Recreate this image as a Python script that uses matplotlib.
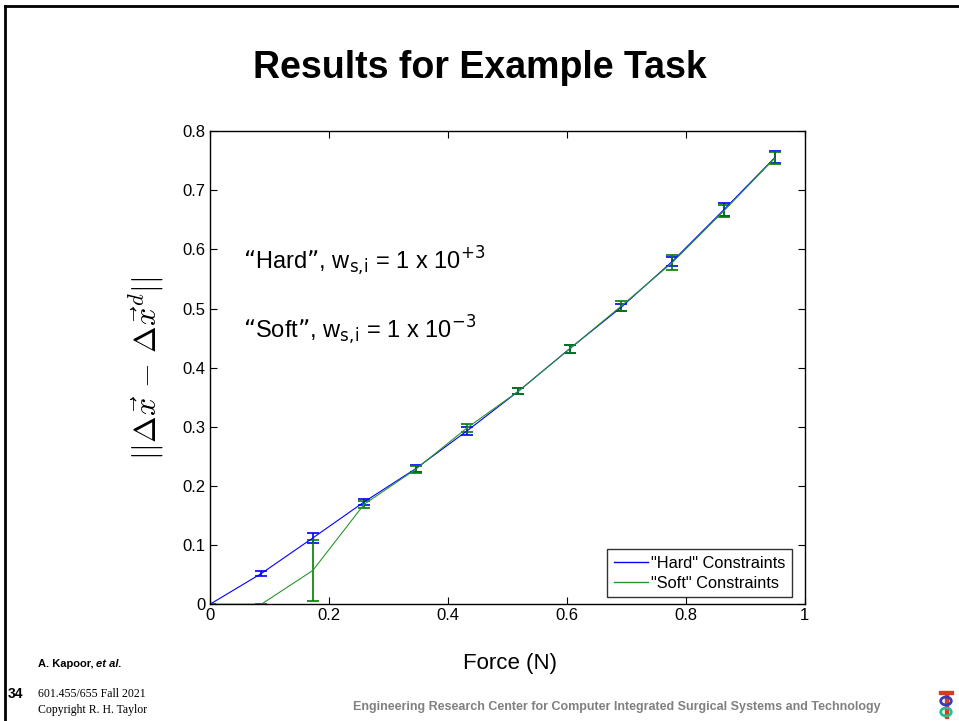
import matplotlib
matplotlib.use("Agg")
import matplotlib.pyplot as plt
from matplotlib.lines import Line2D
from matplotlib.patches import Rectangle, Circle

plt.rcParams['font.family'] = ['Liberation Sans', 'DejaVu Sans']
plt.rcParams['mathtext.fontset'] = 'cm'

force = [0.0, 0.0864, 0.1728, 0.2592, 0.3456, 0.432, 0.5184, 0.6048, 0.6912, 0.7776, 0.864, 0.9504]
hard_y = [0.0, 0.052, 0.112, 0.173, 0.229, 0.293, 0.360, 0.432, 0.502, 0.580, 0.667, 0.756]
hard_err = [0.0, 0.004, 0.008, 0.005, 0.006, 0.007, 0.005, 0.007, 0.006, 0.008, 0.011, 0.010]
soft_y = [0.0, 0.0, 0.057, 0.169, 0.228, 0.298, 0.360, 0.432, 0.504, 0.578, 0.665, 0.755]
soft_err = [0.0, 0.001, 0.052, 0.006, 0.006, 0.007, 0.005, 0.007, 0.008, 0.013, 0.010, 0.010]
xticks = [0, 0.2, 0.4, 0.6, 0.8, 1]
xticklabels = ['0', '0.2', '0.4', '0.6', '0.8', '1']
yticks = [0, 0.1, 0.2, 0.3, 0.4, 0.5, 0.6, 0.7, 0.8]
yticklabels = ['0', '0.1', '0.2', '0.3', '0.4', '0.5', '0.6', '0.7', '0.8']
legend_labels = ['"Hard" Constraints', '"Soft" Constraints']

fig = plt.figure(figsize=(9.59, 7.21), dpi=100)
fig.patch.set_facecolor('white')

ax = fig.add_axes([0.219, 0.162, 0.620, 0.656])

blue = '#0000ff'
green = '#2a962a'
green_dark = '#007f00'

ax.errorbar(force, hard_y, yerr=hard_err, color=blue, lw=0.8, ecolor=blue,
            elinewidth=1.2, capsize=4.5, capthick=1.2)
ax.errorbar(force, soft_y, yerr=soft_err, color=green, lw=0.8, ecolor=green_dark,
            elinewidth=1.2, capsize=4.5, capthick=1.2)

ax.set_xlim(0, 1)
ax.set_ylim(0, 0.8)
ax.set_xticks(xticks)
ax.set_xticklabels(xticklabels)
ax.set_yticks(yticks)
ax.set_yticklabels(yticklabels)
ax.tick_params(direction='in', length=5, width=0.8, top=True, right=True,
               labelsize=12, pad=3)
for s in ax.spines.values():
    s.set_linewidth(1.0)

ax.set_ylabel(r'$||\Delta\vec{x}\,-\,\Delta\vec{x}^d||$', fontsize=23, labelpad=12)
fig.text(0.532, 1 - 663/721, 'Force (N)', fontsize=16, ha='center', va='center')

handles = [Line2D([], [], color=blue, lw=1), Line2D([], [], color=green, lw=1)]
leg = ax.legend(handles, legend_labels, loc='lower right', fontsize=11.8,
                frameon=True, fancybox=False, edgecolor='black',
                handlelength=2.1, handletextpad=0.15, borderpad=0.4,
                labelspacing=0.3, borderaxespad=0,
                bbox_to_anchor=((792 - 210) / 595, (604 - 597) / 473))
leg.get_frame().set_linewidth(1.0)

common = dict(transform=ax.transAxes, fontsize=17, va='center', ha='left',
              math_fontfamily='dejavusans')
ax.text(0.055, 0.725, '“Hard”, w$_{\\mathsf{s,\\!i}}$ = 1 x 10$^{\\mathsf{+3}}$', **common)
ax.text(0.055, 0.578, '“Soft”, w$_{\\mathsf{s,\\!i}}$ = 1 x 10$^{\\mathsf{-3}}$', **common)

fig.text(0.5, 1 - 68/721, 'Results for Example Task', fontsize=27, fontweight='bold',
         ha='center', va='center')

# slide border
fig.add_artist(Line2D([5/959, 1.0], [1 - 6/721, 1 - 6/721], color='black', lw=2,
                      transform=fig.transFigure))
fig.add_artist(Line2D([5/959, 5/959], [0, 1 - 6/721], color='black', lw=2,
                      transform=fig.transFigure))

fig.text(38/959, 1 - 664/721, 'A. Kapoor,', fontsize=8, fontweight='bold',
         ha='left', va='center')
fig.text(96/959, 1 - 664/721, 'et al.', fontsize=8, fontweight='bold', style='italic',
         ha='left', va='center')
fig.text(8/959, 1 - 694/721, '34', fontsize=10, fontweight='bold', ha='left', va='center')
fig.text(38/959, 1 - 694/721, '601.455/655 Fall 2021', fontsize=8.5,
         family='Liberation Serif', ha='left', va='center')
fig.text(38/959, 1 - 710/721, 'Copyright R. H. Taylor', fontsize=8.5,
         family='Liberation Serif', ha='left', va='center')
fig.text(617/959, 1 - 707/721,
         'Engineering Research Center for Computer Integrated Surgical Systems and Technology',
         fontsize=9, fontweight='bold', color='#808080', ha='center', va='center')

# small logo approximation
lx = 946/959
fig.add_artist(Rectangle((lx - 7/959, 1 - 694/721), 14/959, 3/721, color='#d04020',
                         transform=fig.transFigure))
fig.add_artist(Rectangle((lx - 1/959, 1 - 718/721), 3/959, 24/721, color='#d04020',
                         transform=fig.transFigure))
fig.add_artist(Circle((lx, 1 - 701/721), 0.0055, color='#3a3ac0', fill=False, lw=2,
                      transform=fig.transFigure))
fig.add_artist(Circle((lx, 1 - 712/721), 0.0055, color='#20c090', fill=False, lw=2,
                      transform=fig.transFigure))

fig.savefig('out.png', dpi=100)
